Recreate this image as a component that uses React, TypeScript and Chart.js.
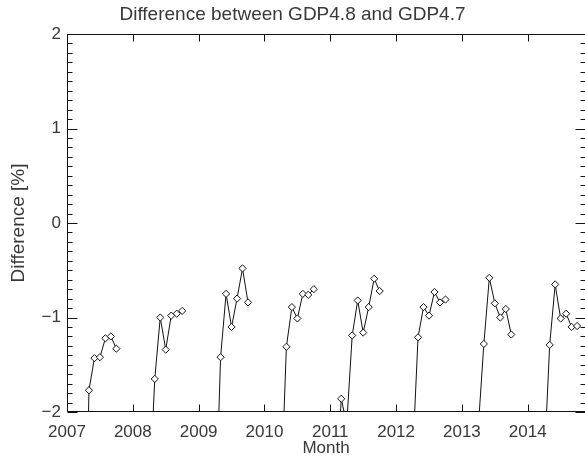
import { useEffect, useRef } from "react";
import { Chart, registerables } from "chart.js";

Chart.register(...registerables);

// Years shown on the x axis (tick labels)
const years = [2007, 2008, 2009, 2010, 2011, 2012, 2013, 2014];
// Months (1 = Jan) for which values are listed for every year
const months = [2, 3, 4, 5, 6, 7, 8, 9, 10];
// Difference [%] per year, for the months above (null = no data)
const v2007 = [null, null, -5.0, -1.77, -1.43, -1.42, -1.22, -1.2, -1.33];
const v2008 = [null, null, -2.9, -1.65, -1.0, -1.34, -0.98, -0.96, -0.93];
const v2009 = [null, null, -3.3, -1.42, -0.75, -1.1, -0.8, -0.48, -0.84];
const v2010 = [null, null, -2.9, -1.31, -0.89, -1.01, -0.75, -0.76, -0.7];
const v2011 = [-2.9, -1.86, -2.13, -1.19, -0.82, -1.16, -0.89, -0.59, -0.72];
const v2012 = [null, null, -2.5, -1.21, -0.89, -0.98, -0.73, -0.84, -0.81];
const v2013 = [null, null, -2.15, -1.28, -0.58, -0.85, -1.0, -0.91, -1.18];
const v2014 = [null, null, -2.55, -1.29, -0.65, -1.01, -0.96, -1.1, -1.09];
const yearValues = [v2007, v2008, v2009, v2010, v2011, v2012, v2013, v2014];
// Y axis labelled ticks
const yTicks = [-2, -1, 0, 1, 2];

const FONT = "'Liberation Sans', Arial, sans-serif";
const TEXT = "#383838";

const framePlugin = {
  id: "idlFrame",
  afterDatasetsDraw(chart: any) {
    const { ctx, chartArea } = chart;
    const { left, right, top, bottom } = chartArea;
    const xs = chart.scales.x;
    const ys = chart.scales.y;
    const L = Math.round(left) + 0.5;
    const R = Math.round(right) - 0.5;
    const T = Math.round(top) + 0.5;
    const B = Math.round(bottom) - 0.5;
    ctx.save();
    ctx.strokeStyle = "#111";
    ctx.lineWidth = 1;
    ctx.beginPath();
    ctx.moveTo(L, T);
    ctx.lineTo(R + 2, T);
    ctx.moveTo(L, T);
    ctx.lineTo(L, B);
    ctx.lineTo(R + 2, B);
    // y ticks (major + minor), inward on both sides
    for (let k = -20; k <= 20; k++) {
      const py = Math.round(ys.getPixelForValue(k / 10)) + 0.5;
      const len = k % 10 === 0 ? 10 : 5;
      ctx.moveTo(L, py);
      ctx.lineTo(L + len, py);
      ctx.moveTo(R + 1, py);
      ctx.lineTo(R + 1 - len, py);
    }
    // x ticks, inward at bottom and top
    xs.ticks.forEach((t: any) => {
      const px = Math.round(xs.getPixelForValue(t.value)) + 0.5;
      ctx.moveTo(px, B);
      ctx.lineTo(px, B - 7);
      ctx.moveTo(px, T);
      ctx.lineTo(px, T + 7);
    });
    ctx.stroke();
    ctx.restore();
  },
};

export default function App() {
  const ref = useRef<HTMLCanvasElement | null>(null);

  useEffect(() => {
    document.body.style.margin = "0";
    const points: { x: number; y: number | null }[] = [];
    years.forEach((yr, i) => {
      const vals = yearValues[i];
      months.forEach((m, j) => {
        points.push({ x: yr + (m - 1) / 12, y: vals[j] });
      });
      points.push({ x: yr + 11 / 12, y: null });
    });

    const chart = new Chart(ref.current as HTMLCanvasElement, {
      type: "line",
      data: {
        datasets: [
          {
            label: "Difference",
            data: points as any,
            borderColor: "#111",
            borderWidth: 1,
            pointStyle: "rectRot",
            pointRadius: 3.6,
            pointBorderWidth: 1,
            pointBorderColor: "#111",
            pointBackgroundColor: "#fff",
            spanGaps: false,
            tension: 0,
            clip: 0,
          } as any,
        ],
      },
      options: {
        responsive: false,
        animation: false,
        layout: { padding: 0, autoPadding: false },
        plugins: {
          legend: { display: false },
          tooltip: { enabled: false },
          title: {
            display: true,
            text: "Difference between GDP4.8 and GDP4.7",
            font: { family: FONT, size: 19, weight: "normal" },
            color: TEXT,
            padding: { top: 3, bottom: 8.2 },
          },
        },
        scales: {
          x: {
            type: "linear",
            min: 2007,
            max: 2014.87,
            afterBuildTicks: (axis: any) => {
              axis.ticks = years.map((v) => ({ value: v }));
            },
            afterFit: (axis: any) => {
              axis.height = 48;
              axis.paddingLeft = 0;
              axis.paddingRight = 0;
            },
            grid: { display: false, drawTicks: false },
            border: { display: false },
            ticks: {
              font: { family: FONT, size: 17 },
              color: TEXT,
              padding: 10,
              maxRotation: 0,
              autoSkip: false,
              callback: (v: any) => String(v),
            },
            title: {
              display: true,
              text: "Month",
              font: { family: FONT, size: 17 },
              color: TEXT,
              padding: { top: 0, bottom: 1 },
            },
          },
          y: {
            type: "linear",
            min: -2,
            max: 2,
            afterBuildTicks: (axis: any) => {
              axis.ticks = yTicks.map((v) => ({ value: v }));
            },
            afterFit: (axis: any) => {
              axis.width = 67;
            },
            grid: { display: false, drawTicks: false },
            border: { display: false },
            ticks: {
              font: { family: FONT, size: 17 },
              color: TEXT,
              padding: 6,
              callback: (v: any) => (v < 0 ? "\u2212" + Math.abs(v) : String(v)),
            },
            title: {
              display: true,
              text: "Difference [%]",
              font: { family: FONT, size: 19 },
              color: TEXT,
              padding: { top: 7, bottom: 0 },
            },
          },
        },
      },
      plugins: [framePlugin],
    });
    return () => chart.destroy();
  }, []);

  return (
    <div style={{ width: 585, height: 460 }}>
      <canvas ref={ref} width={585} height={460} style={{ display: "block" }} />
    </div>
  );
}
